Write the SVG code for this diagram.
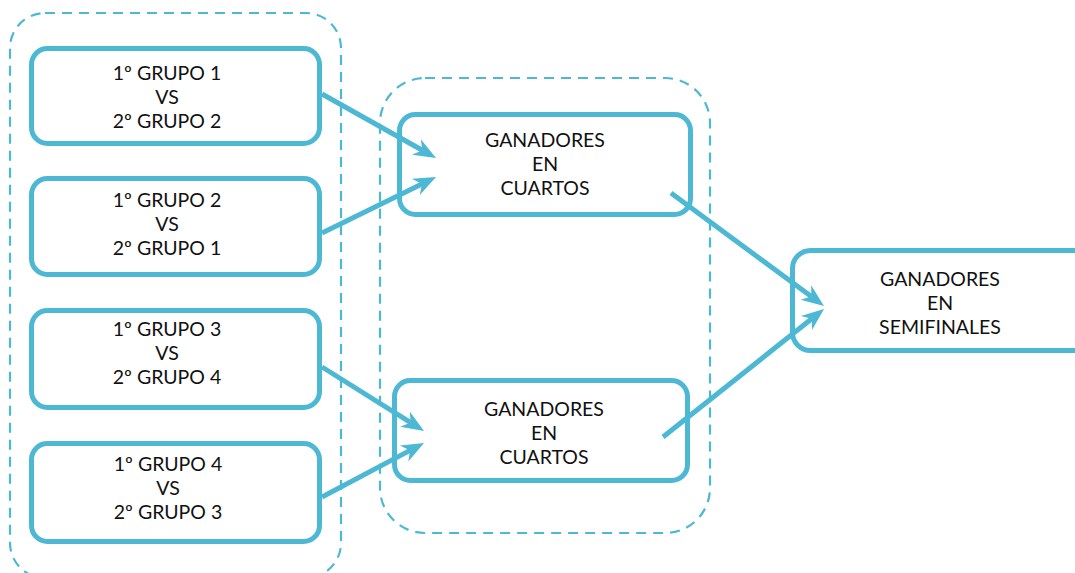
<svg xmlns="http://www.w3.org/2000/svg" width="1075" height="573" viewBox="0 0 1075 573">
<style>
.grp{fill:none;stroke:#4db8d4;stroke-width:2.2;stroke-dasharray:10 7}
.box{fill:#fff;stroke:#4db8d4;stroke-width:5}
.t{font-family:Lato,"Open Sans",sans-serif;font-size:19.5px;fill:#111;text-anchor:middle}
.c{fill:none;stroke:#4db8d4;stroke-width:5}
</style>
<defs>
<marker id="ah" viewBox="0 0 10 10" refX="3" refY="5" markerWidth="4.5" markerHeight="4.5" orient="auto" markerUnits="strokeWidth">
<path d="M0,1 L10,5 L0,9 L3,5 Z" fill="#4db8d4"/>
</marker>
</defs>
<rect class="grp" x="10" y="13" width="331" height="565" rx="35" ry="35"/>
<rect class="grp" x="380" y="78" width="330" height="455" rx="45" ry="45"/>
<g id="m1"><rect class="box" x="31.5" y="48.5" width="288" height="95" rx="16"/>
<text class="t" x="167" y="80">1º GRUPO 1</text><text class="t" x="167" y="104">VS</text><text class="t" x="167" y="128">2º GRUPO 2</text></g>
<g id="m2"><rect class="box" x="31.5" y="178.5" width="288" height="96" rx="16"/>
<text class="t" x="167" y="207">1º GRUPO 2</text><text class="t" x="167" y="231">VS</text><text class="t" x="167" y="255">2º GRUPO 1</text></g>
<g id="m3"><rect class="box" x="31.5" y="310.5" width="288" height="97" rx="16"/>
<text class="t" x="167" y="336">1º GRUPO 3</text><text class="t" x="167" y="360">VS</text><text class="t" x="167" y="384">2º GRUPO 4</text></g>
<g id="m4"><rect class="box" x="31.5" y="443.5" width="288" height="98" rx="16"/>
<text class="t" x="168" y="471">1º GRUPO 4</text><text class="t" x="168" y="495">VS</text><text class="t" x="168" y="519">2º GRUPO 3</text></g>
<g id="q1"><rect class="box" x="399.5" y="114.5" width="291" height="100" rx="16"/>
<text class="t" x="545" y="147">GANADORES</text><text class="t" x="545" y="171">EN</text><text class="t" x="545" y="195">CUARTOS</text></g>
<g id="q2"><rect class="box" x="394.5" y="380.5" width="293" height="100" rx="16"/>
<text class="t" x="544" y="416">GANADORES</text><text class="t" x="544" y="440">EN</text><text class="t" x="544" y="464">CUARTOS</text></g>
<g id="s"><rect class="box" x="792.5" y="250.5" width="300" height="100" rx="18"/>
<text class="t" x="940" y="286">GANADORES</text><text class="t" x="940" y="310">EN</text><text class="t" x="940" y="334">SEMIFINALES</text></g>
<g id="connectors">
<line class="c" x1="322" y1="94" x2="422.3" y2="150.3" marker-end="url(#ah)"/>
<line class="c" x1="322" y1="233" x2="421.9" y2="183.9" marker-end="url(#ah)"/>
<line class="c" x1="322" y1="367" x2="410.7" y2="422.6" marker-end="url(#ah)"/>
<line class="c" x1="322" y1="497" x2="410.1" y2="450.4" marker-end="url(#ah)"/>
<line class="c" x1="671" y1="193" x2="811.3" y2="296.6" marker-end="url(#ah)"/>
<line class="c" x1="663" y1="437" x2="811.7" y2="318.8" marker-end="url(#ah)"/>
</g>
</svg>
